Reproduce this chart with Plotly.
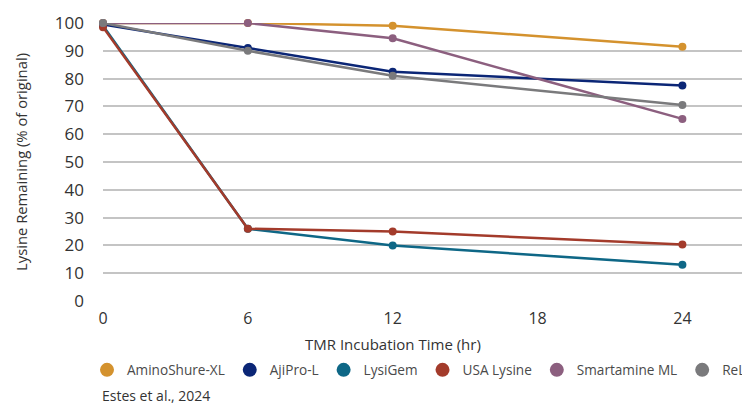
import plotly.graph_objects as go

hours = [0, 6, 12, 24]
series_names = ["AminoShure-XL", "AjiPro-L", "LysiGem", "USA Lysine", "Smartamine ML", "ReLys"]
amino_shure = [100, 100, 99, 91.5]
ajipro = [99.5, 91, 82.5, 77.5]
lysigem = [99, 26, 20, 13]
usa_lysine = [98.5, 26, 25, 20.3]
smartamine = [100, 100, 94.5, 65.5]
relys = [100, 90, 81, 70.5]
x_ticks = [0, 6, 12, 18, 24]
y_ticks = [0, 10, 20, 30, 40, 50, 60, 70, 80, 90, 100]

values = [amino_shure, ajipro, lysigem, usa_lysine, smartamine, relys]
colors = ["#D4922E", "#0B2676", "#0E6786", "#A33B2B", "#8C5F7F", "#7A7A7C"]

fig = go.Figure()
for name, vals, col in zip(series_names, values, colors):
    fig.add_trace(go.Scatter(
        x=hours, y=vals, name=name, mode="lines+markers",
        line=dict(color=col, width=2.5),
        marker=dict(color=col, size=8),
        cliponaxis=False, showlegend=False, legendgroup=name,
    ))
# legend entries shown as plain circles, as in the reference
for name, col in zip(series_names, colors):
    fig.add_trace(go.Scatter(
        x=[None], y=[None], name=name, mode="markers",
        marker=dict(color=col, size=14), legendgroup=name, showlegend=True,
    ))

# the page adds an 8px body margin; layout is drawn in reference pixels minus 8
OFF = 8
W, H = 750 - OFF, 405 - OFF
ml, mr, mt = 103 - OFF, 0, 23 - OFF
mb = H - (301 - OFF)
pw, ph = W - ml - mr, H - mt - mb


def px_to_paper_x(px):
    return (px - OFF - ml) / pw


def px_to_paper_y(py):
    return (H - mb - (py - OFF)) / ph


fig.update_layout(
    width=W, height=H,
    margin=dict(l=ml, r=mr, t=mt, b=mb, autoexpand=False),
    plot_bgcolor="white", paper_bgcolor="white",
    font=dict(family="Open Sans", color="#333333"),
    showlegend=True,
    legend=dict(
        orientation="h", x=px_to_paper_x(87), xanchor="left",
        y=px_to_paper_y(370), yanchor="middle",
        font=dict(size=13.6, color="#4a4a4a"), itemwidth=30,
        traceorder="normal", itemsizing="trace",
    ),
    xaxis=dict(
        range=[0, 26.8], tickvals=x_ticks, showgrid=False, zeroline=False,
        showline=False, tickfont=dict(size=16, color="#333333"),
        ticklabelstandoff=6,
    ),
    yaxis=dict(
        range=[0, 100], tickvals=y_ticks, showgrid=True, gridcolor="#c4c4c4",
        gridwidth=1.5, zeroline=False, showline=False,
        tickfont=dict(size=17, color="#333333"), ticklabelstandoff=18,
        title=dict(text="Lysine Remaining (% of original)",
                   font=dict(size=14.8, color="#333333"), standoff=23),
    ),
    annotations=[
        dict(text="TMR Incubation Time (hr)", x=12, xref="x",
             y=px_to_paper_y(344), yref="paper",
             showarrow=False, font=dict(size=15, color="#333333"),
             xanchor="center", yanchor="middle"),
        dict(text="Estes et al., 2024", x=px_to_paper_x(100), xref="paper",
             y=px_to_paper_y(395), yref="paper",
             showarrow=False, font=dict(size=14, color="#333333"),
             xanchor="left", yanchor="middle"),
    ],
)

fig.write_html("out.html")
